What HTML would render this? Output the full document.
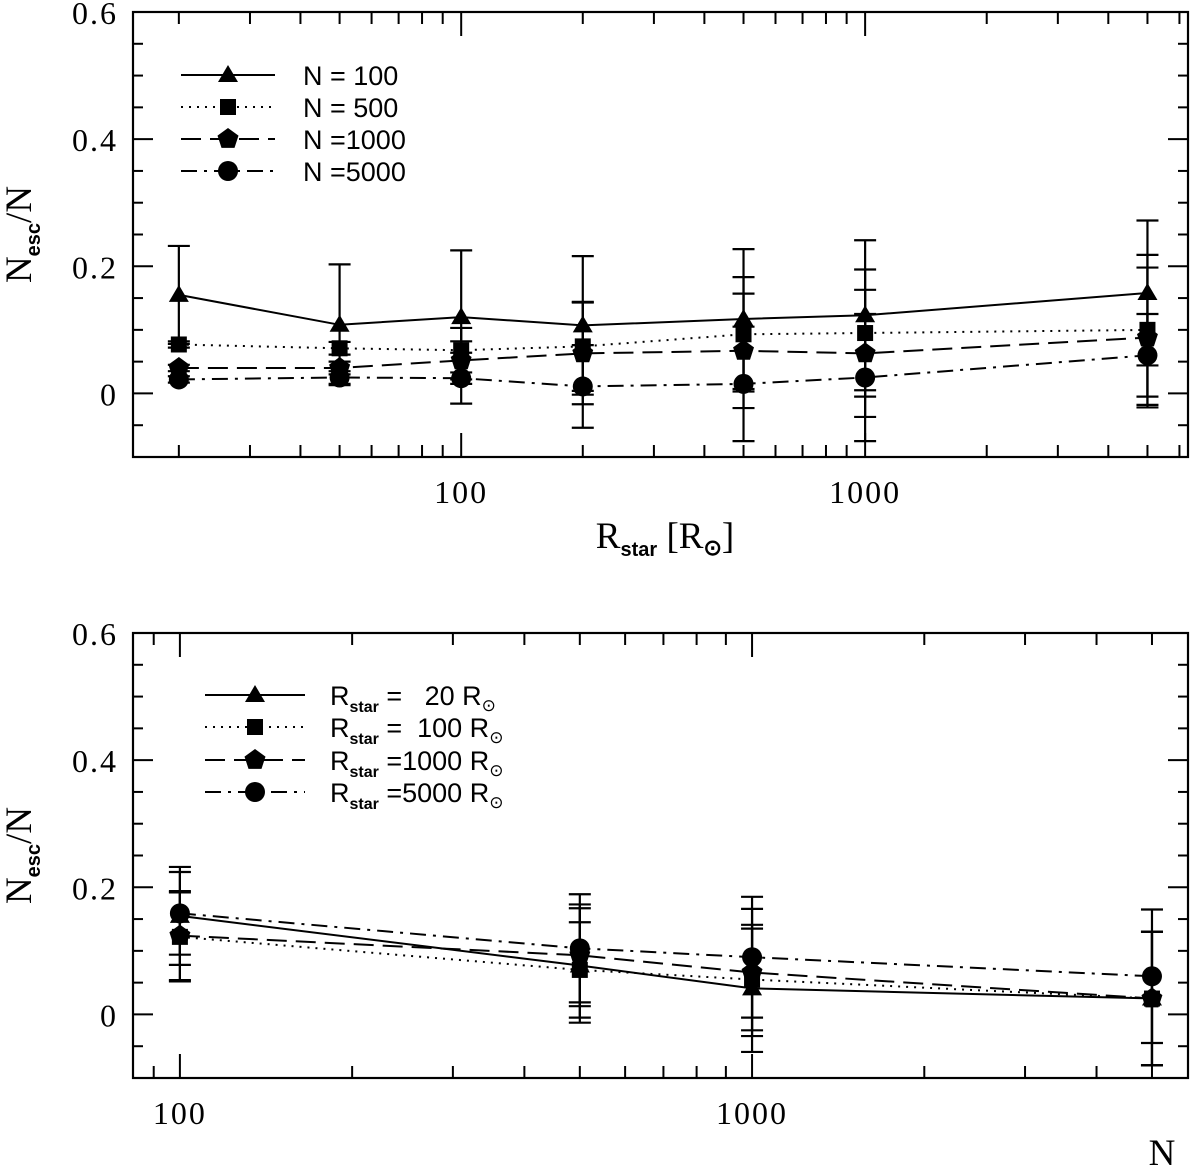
<!DOCTYPE html>
<html><head><meta charset="utf-8"><style>
html,body{margin:0;padding:0;background:#fff;}
svg{display:block;}
.tl{font-family:"Liberation Serif",serif;font-size:32px;fill:#000;letter-spacing:2px;}
.tt{font-family:"Liberation Serif",serif;font-size:37px;fill:#000;}
.sb{font-family:"Liberation Sans",sans-serif;font-weight:bold;}
.lg{font-family:"Liberation Sans",sans-serif;font-size:27px;fill:#000;}
</style></head><body>
<svg id="fig" width="1200" height="1165" viewBox="0 0 1200 1165" xmlns="http://www.w3.org/2000/svg"></svg>
<script>
// ---- Top panel data (x = R_star) ----
const topX = [20, 50, 100, 200, 500, 1000, 5000];
const topN100 = [0.155, 0.108, 0.12, 0.107, 0.117, 0.123, 0.158];
const topN100Err = [0.077, 0.095, 0.105, 0.109, 0.11, 0.118, 0.114];
const topN500 = [0.077, 0.071, 0.068, 0.074, 0.093, 0.095, 0.1];
const topN500Err = [0.005, 0.01, 0.035, 0.07, 0.09, 0.1, 0.118];
const topN1000 = [0.04, 0.04, 0.052, 0.063, 0.067, 0.063, 0.088];
const topN1000Err = [0.005, 0.01, 0.03, 0.08, 0.09, 0.1, 0.11];
const topN5000 = [0.022, 0.025, 0.024, 0.011, 0.015, 0.025, 0.06];
const topN5000Err = [0.005, 0.01, 0.04, 0.065, 0.09, 0.1, 0.065];
const topLegend = ["N = 100", "N = 500", "N =1000", "N =5000"];
// ---- Bottom panel data (x = N) ----
const botX = [100, 500, 1000, 5000];
const botR20 = [0.155, 0.077, 0.041, 0.025];
const botR20Err = [0.077, 0.09, 0.1, 0.105];
const botR100 = [0.122, 0.07, 0.055, 0.025];
const botR100Err = [0.07, 0.075, 0.08, 0.105];
const botR1000 = [0.124, 0.093, 0.066, 0.025];
const botR1000Err = [0.07, 0.08, 0.1, 0.105];
const botR5000 = [0.159, 0.104, 0.09, 0.06];
const botR5000Err = [0.065, 0.085, 0.095, 0.105];
const botLegend = ["=   20", "=  100", "=1000", "=5000"];
const yTicks = [0, 0.2, 0.4, 0.6];
const yTickLabels = ["0", "0.2", "0.4", "0.6"];

const NS = "http://www.w3.org/2000/svg";
const svg = document.getElementById('fig');
function mk(tag, attrs, parent) {
  const e = document.createElementNS(NS, tag);
  for (const k in attrs) e.setAttribute(k, attrs[k]);
  (parent || svg).appendChild(e);
  return e;
}
const styles = [
  {dash: "none", marker: "tri"},
  {dash: "2,6", marker: "sq"},
  {dash: "20,9", marker: "pent"},
  {dash: "16,7,3,7", marker: "circ"}
];
function marker(g, type, x, y) {
  let e;
  if (type === "tri") e = mk('polygon', {points: `${x},${y-10} ${x-10},${y+7} ${x+10},${y+7}`, fill: '#000'}, g);
  else if (type === "sq") e = mk('rect', {x: x-8, y: y-8, width: 16, height: 16, fill: '#000'}, g);
  else if (type === "pent") {
    let p = [];
    for (let i = 0; i < 5; i++) { const a = -Math.PI/2 + i*2*Math.PI/5; p.push((x+11*Math.cos(a)).toFixed(1)+','+(y+11*Math.sin(a)).toFixed(1)); }
    e = mk('polygon', {points: p.join(' '), fill: '#000'}, g);
  } else e = mk('circle', {cx: x, cy: y, r: 10, fill: '#000'}, g);
  
  
}

function panel(cfg) {
  const {name, left, right, top, bottom, xmin, xmax, xs, series, errs, majors, majorLabels, minors} = cfg;
  const g = mk('g', {});
  
  
  const lx = v => left + (Math.log10(v) - Math.log10(xmin)) / (Math.log10(xmax) - Math.log10(xmin)) * (right - left);
  const ymin = -0.1, ymax = 0.6;
  const sy = v => bottom - (v - ymin) / (ymax - ymin) * (bottom - top);
  const fr = mk('rect', {x: left, y: top, width: right-left, height: bottom-top, fill: 'none', stroke: '#000', 'stroke-width': 2.2}, g);
  
  
  for (let k = -2; k <= 12; k++) {
    const v = k * 0.05, yy = sy(v);
    const major = (k % 4 === 0);
    const L = major ? 20 : 10;
    mk('line', {x1: left, y1: yy, x2: left+L, y2: yy, stroke: '#000', 'stroke-width': 2}, g);
    mk('line', {x1: right, y1: yy, x2: right-L, y2: yy, stroke: '#000', 'stroke-width': 2}, g);
  }
  yTicks.forEach((v, i) => {
    const t = mk('text', {x: 118, y: sy(v) + 12, 'text-anchor': 'end', class: 'tl'}, g);
    t.textContent = yTickLabels[i];
    
    
  });
  minors.forEach(v => {
    const xx = lx(v);
    mk('line', {x1: xx, y1: bottom, x2: xx, y2: bottom-12, stroke: '#000', 'stroke-width': 2}, g);
    mk('line', {x1: xx, y1: top, x2: xx, y2: top+12, stroke: '#000', 'stroke-width': 2}, g);
  });
  majors.forEach((v, i) => {
    const xx = lx(v);
    mk('line', {x1: xx, y1: bottom, x2: xx, y2: bottom-24, stroke: '#000', 'stroke-width': 2}, g);
    mk('line', {x1: xx, y1: top, x2: xx, y2: top+24, stroke: '#000', 'stroke-width': 2}, g);
    const t = mk('text', {x: xx, y: bottom + 46, 'text-anchor': 'middle', class: 'tl'}, g);
    t.textContent = majorLabels[i];
    
    
  });
  series.forEach((vals, si) => {
    const sg = mk('g', {}, g);
    
    
    const pts = xs.map((x, i) => lx(x).toFixed(1) + ',' + sy(vals[i]).toFixed(1)).join(' ');
    const pl = mk('polyline', {points: pts, fill: 'none', stroke: '#000', 'stroke-width': 2, 'stroke-dasharray': styles[si].dash}, sg);
    
    
    xs.forEach((x, i) => {
      const xx = lx(x), e = errs[si][i];
      const y1 = sy(vals[i] + e), y2 = sy(vals[i] - e);
      mk('line', {x1: xx, y1: y1, x2: xx, y2: y2, stroke: '#000', 'stroke-width': 2.2}, sg);
      mk('line', {x1: xx-11, y1: y1, x2: xx+11, y2: y1, stroke: '#000', 'stroke-width': 2.2}, sg);
      mk('line', {x1: xx-11, y1: y2, x2: xx+11, y2: y2, stroke: '#000', 'stroke-width': 2.2}, sg);
      marker(sg, styles[si].marker, xx, sy(vals[i]));
    });
  });
  const yt = mk('text', {transform: `translate(31,${(top+bottom)/2}) rotate(-90)`, 'text-anchor': 'middle', class: 'tt'}, g);
  yt.innerHTML = 'N<tspan class="sb" font-size="20" dy="9">esc</tspan><tspan dy="-9">/N</tspan>';
  
  
  return g;
}

panel({name: 'top-panel', left: 133, right: 1188, top: 12, bottom: 457, xmin: 15.4, xmax: 6300,
  xs: topX, series: [topN100, topN500, topN1000, topN5000], errs: [topN100Err, topN500Err, topN1000Err, topN5000Err],
  majors: [100, 1000], majorLabels: ["100", "1000"],
  minors: [20,30,40,50,60,70,80,90,200,300,400,500,600,700,800,900,2000,3000,4000,5000,6000]});
panel({name: 'bottom-panel', left: 133, right: 1188, top: 633, bottom: 1078, xmin: 82.8, xmax: 5780,
  xs: botX, series: [botR20, botR100, botR1000, botR5000], errs: [botR20Err, botR100Err, botR1000Err, botR5000Err],
  majors: [100, 1000], majorLabels: ["100", "1000"],
  minors: [90,200,300,400,500,600,700,800,900,2000,3000,4000,5000]});

let xt = mk('text', {x: 665, y: 548, 'text-anchor': 'middle', class: 'tt', 'xml:space': 'preserve'});
xt.innerHTML = 'R<tspan class="sb" font-size="20" dy="8">star</tspan><tspan dy="-8">  [R</tspan><tspan class="sb" font-size="22" dy="7">⊙</tspan><tspan dy="-7">]</tspan>';


xt = mk('text', {x: 1162, y: 1165, 'text-anchor': 'middle', class: 'tt'});
xt.textContent = 'N';



function legend(name, x0, x1, mx, tx, ys, labels, sub) {
  const g = mk('g', {});
  
  
  ys.forEach((yy, i) => {
    const e = mk('g', {}, g);
    
    
    mk('line', {x1: x0, y1: yy, x2: x1, y2: yy, stroke: '#000', 'stroke-width': 2, 'stroke-dasharray': styles[i].dash}, e);
    marker(e, styles[i].marker, mx, yy);
    const t = mk('text', {x: tx, y: yy + 10, class: 'lg', 'xml:space': 'preserve'}, e);
    if (sub) t.innerHTML = 'R<tspan class="sb" font-size="16" dy="7">star</tspan><tspan dy="-7" style="white-space:pre"> ' + labels[i] + ' R</tspan><tspan font-size="17" dy="6">⊙</tspan>';
    else t.textContent = labels[i];
  });
}
legend('top-legend', 181, 275, 228, 303, [75, 107, 139, 171], topLegend, false);
legend('bottom-legend', 205, 305, 255, 330, [695, 727, 760, 792], botLegend, true);
</script>
</body></html>
